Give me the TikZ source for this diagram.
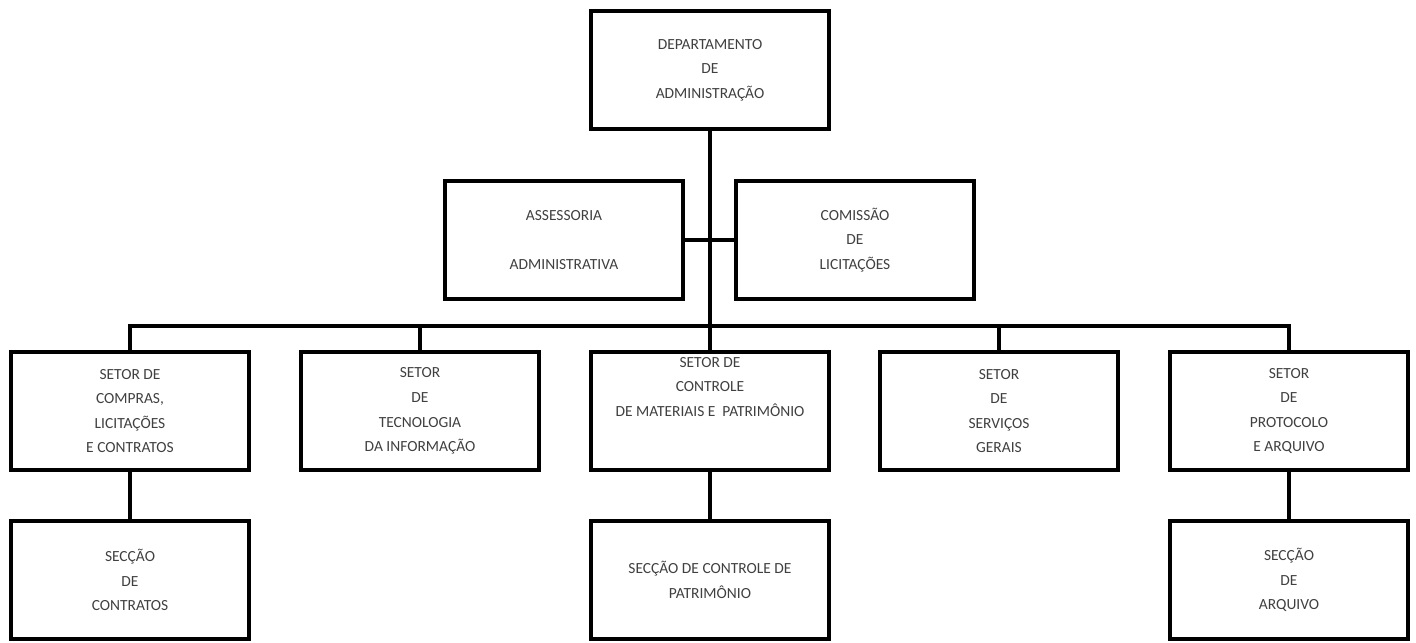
\documentclass[tikz,border=0pt]{standalone}
\usepackage{fontspec}
\setmainfont{Carlito}
\definecolor{textogris}{HTML}{404040}
\tikzset{unidade/.style={draw, line width=2.8pt, minimum width=5.95cm, minimum height=2.95cm, align=center, inner sep=0pt, text=textogris, font=\fontsize{11}{17.5}\selectfont},
ligacao/.style={line width=2.2pt}}

\begin{document}
\begin{tikzpicture}[x=0.025cm, y=-0.025cm]
\useasboundingbox (0,0) rectangle (1416,643);
\node[unidade] (dep) at (710,70) {DEPARTAMENTO\\DE\\ADMINISTRAÇÃO};
\node[unidade] (assess) at (564,240) {ASSESSORIA\\ \strut\\ADMINISTRATIVA};
\node[unidade] (comis) at (855,240) {COMISSÃO\\DE\\LICITAÇÕES};
\node[unidade] (compras) at (130,411) {SETOR DE\\COMPRAS,\\LICITAÇÕES\\E CONTRATOS};
\node[unidade] (tecno) at (420,411) {SETOR\\DE\\TECNOLOGIA\\DA INFORMAÇÃO};
\node[unidade] (control) at (710,411) {SETOR DE\\CONTROLE\\DE MATERIAIS E\ \ PATRIMÔNIO\\ \strut\\[-6pt] \strut};
\node[unidade] (servic) at (999,411) {SETOR\\DE\\SERVIÇOS\\GERAIS};
\node[unidade] (protoc) at (1289,411) {SETOR\\DE\\PROTOCOLO\\E ARQUIVO};
\node[unidade] (contrat) at (130,580) {SECÇÃO\\DE\\CONTRATOS};
\node[unidade] (patrim) at (710,580) {SECÇÃO DE CONTROLE DE\\PATRIMÔNIO};
\node[unidade] (arquiv) at (1289,580) {SECÇÃO\\DE\\ARQUIVO};
\coordinate (barra) at (710,326);
\draw[ligacao] (dep) -- (control);
\draw[ligacao] (assess) -- (comis);
\draw[ligacao] (compras) |- (barra) -| (protoc);
\draw[ligacao] (tecno) -- (tecno.north |- barra);
\draw[ligacao] (servic) -- (servic.north |- barra);
\draw[ligacao] (compras) -- (contrat);
\draw[ligacao] (control) -- (patrim);
\draw[ligacao] (protoc) -- (arquiv);
\end{tikzpicture}
\end{document}
